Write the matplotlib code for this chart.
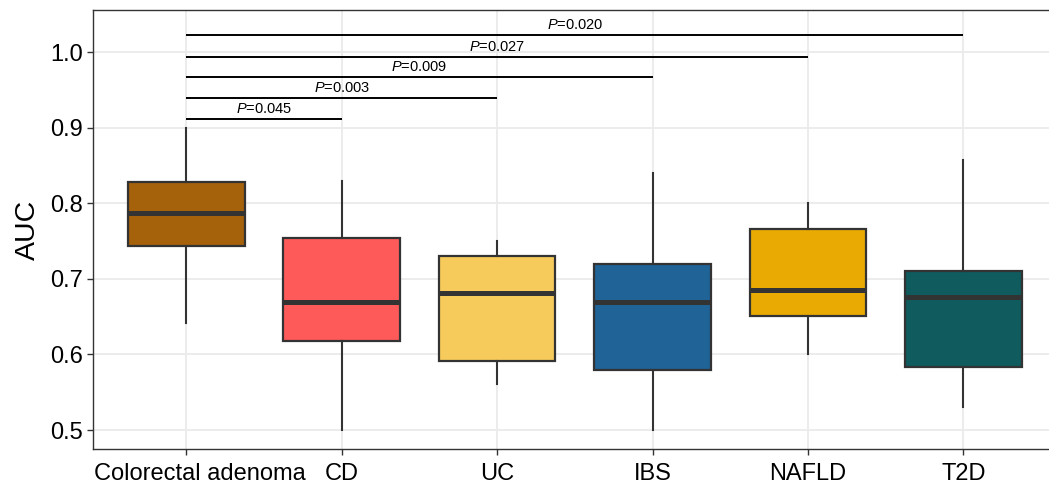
import matplotlib
matplotlib.use("Agg")
import matplotlib.pyplot as plt
from matplotlib.transforms import ScaledTranslation

plt.rcParams["font.family"] = ["Liberation Sans", "DejaVu Sans"]
plt.rcParams["mathtext.fontset"] = "custom"
plt.rcParams["mathtext.it"] = "Liberation Sans:italic"
plt.rcParams["mathtext.rm"] = "Liberation Sans"

# Box statistics
groups = ["Colorectal adenoma", "CD", "UC", "IBS", "NAFLD", "T2D"]
whisker_low = [0.641, 0.500, 0.561, 0.500, 0.600, 0.531]
q1 = [0.743, 0.618, 0.591, 0.579, 0.651, 0.583]
median = [0.787, 0.670, 0.681, 0.670, 0.685, 0.676]
q3 = [0.828, 0.754, 0.730, 0.720, 0.766, 0.710]
whisker_high = [0.900, 0.830, 0.750, 0.840, 0.800, 0.857]
colors = ["#A6620A", "#FF5A5A", "#F6CB5C", "#1F6397", "#E9AB03", "#0F5B5E"]

# Pairwise comparisons against colorectal adenoma
compare_to = ["CD", "UC", "IBS", "NAFLD", "T2D"]
p_labels = ["0.045", "0.003", "0.009", "0.027", "0.020"]
bar_heights = [0.911, 0.939, 0.967, 0.994, 1.022]


def main():
    fig = plt.figure(figsize=(10.49, 4.91), dpi=100)
    ax = fig.add_axes([0.0887, 0.0855, 0.9185, 0.894])

    stats = []
    for i, name in enumerate(groups):
        stats.append(
            {
                "label": name,
                "whislo": whisker_low[i],
                "q1": q1[i],
                "med": median[i],
                "q3": q3[i],
                "whishi": whisker_high[i],
                "fliers": [],
            }
        )

    positions = list(range(1, len(groups) + 1))
    bp = ax.bxp(
        stats,
        positions=positions,
        widths=0.75,
        patch_artist=True,
        showcaps=False,
        showfliers=False,
        boxprops=dict(edgecolor="#333333", linewidth=1.6),
        medianprops=dict(color="#333333", linewidth=3.6, solid_capstyle="butt"),
        whiskerprops=dict(color="#333333", linewidth=1.5),
        zorder=3,
    )
    for patch, c in zip(bp["boxes"], colors):
        patch.set_facecolor(c)

    # significance bars
    for name, p, h in zip(compare_to, p_labels, bar_heights):
        x2 = groups.index(name) + 1
        ax.plot([1, x2], [h, h], color="black", linewidth=1.4, zorder=4,
                solid_capstyle="butt")
        ax.text((1 + x2) / 2, h + 0.004, "$\\it{P}$=" + p, ha="center",
                va="bottom", fontsize=10.5, zorder=4)

    ax.set_xlim(0.4, 6.6)
    ax.set_ylim(0.475, 1.0555)
    ax.set_xticks(positions)
    ax.set_xticklabels(groups)
    ax.set_yticks([0.5, 0.6, 0.7, 0.8, 0.9, 1.0])
    ax.set_yticklabels(["0.5", "0.6", "0.7", "0.8", "0.9", "1.0"])
    ax.set_ylabel("AUC", fontsize=20.5, labelpad=6)

    ax.grid(True, color="#EBEBEB", linewidth=1.3, zorder=0)
    ax.set_axisbelow(True)
    ax.tick_params(axis="both", length=4.5, width=1.0, color="#333333",
                   labelsize=17, labelcolor="black", pad=3.0)
    ax.tick_params(axis="x", pad=5.5)
    for spine in ax.spines.values():
        spine.set_color("#333333")
        spine.set_linewidth(1.0)

    # the first label sits a little right of its tick in the original
    first = ax.get_xticklabels()[0]
    first.set_transform(first.get_transform()
                        + ScaledTranslation(0.14, 0, fig.dpi_scale_trans))

    fig.savefig("out.png", dpi=100, facecolor="white")
    plt.close(fig)


if __name__ == "__main__":
    main()
